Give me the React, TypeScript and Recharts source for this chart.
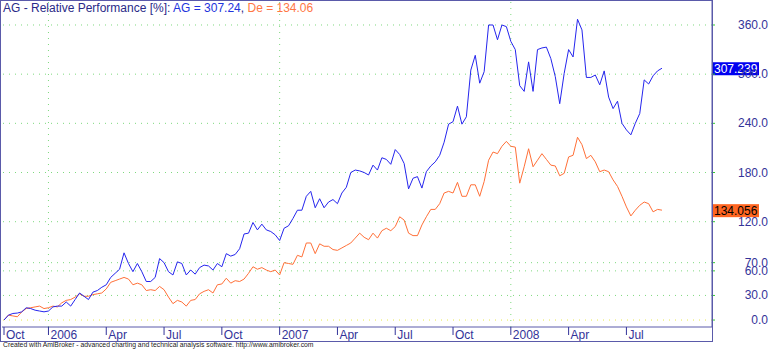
import { Line, LineChart, ReferenceLine, XAxis, YAxis } from "recharts";

// weekly relative performance [%], from late Oct 2005 to end of Aug 2008
const agValues = [
  0, 6, 8, 8.5, 10, 15, 14, 12, 11, 10,
  11, 16, 17, 17, 22, 17, 25, 33, 29, 25,
  34, 36, 40, 43, 52, 57, 62, 82, 69, 59,
  69, 59, 47, 47, 52, 75, 70, 59, 55, 71,
  69, 55, 61, 56, 64, 67, 66, 61, 69, 65,
  81, 78, 80, 87, 105, 106, 119, 110, 117, 110,
  108, 104, 97, 112, 115, 124, 134, 134, 151, 157,
  137, 148, 137, 144, 147, 142, 155, 162, 180, 183,
  182, 180, 177, 189, 183, 198, 196, 190, 208, 202,
  191, 160, 173, 175, 161, 181, 188, 193, 201, 217,
  239, 242, 261, 239, 248, 305, 323, 289, 303, 360,
  360, 342, 360, 358, 340, 330, 286, 279, 315, 279,
  330, 332, 333, 319, 297, 264, 301, 330, 321, 367,
  354, 296, 296, 299, 287, 304, 272, 258, 267, 240,
  232, 226, 240, 252, 293, 288, 298, 304, 307.239,
];

const deValues = [
  0, 6, 5, 4, 10, 14, 15, 16, 17, 14,
  15, 17, 16, 21, 24, 25, 28, 32, 29, 29,
  31, 32, 33, 38, 46, 48, 50, 52, 50, 43,
  45, 43, 36, 37, 36, 41, 37, 28, 20, 24,
  22, 17, 24, 25, 32, 35, 37, 33, 43, 44,
  51, 45, 48, 47, 50, 57, 65, 62, 64, 61,
  59, 61, 55, 70, 69, 68, 79, 77, 94, 94,
  81, 93, 90, 90, 86, 85, 88, 91, 94, 100,
  106, 101, 98, 106, 100, 109, 112, 109, 114, 126,
  122, 106, 103, 103, 116, 126, 135, 135, 142, 155,
  157, 155, 168, 151, 151, 165, 165, 151, 169, 195,
  205, 203, 212, 218, 212, 211, 167, 187, 209, 187,
  195, 203, 196, 189, 188, 176, 179, 199, 201, 223,
  214, 197, 201, 193, 181, 183, 181, 171, 163, 151,
  138, 127, 134, 140, 144, 142, 132, 135, 134.056,
];

const tickWeeks = [0, 10, 23, 36, 49, 62, 75, 88, 101, 114, 127, 140];
const tickLabels = ["Oct", "2006", "Apr", "Jul", "Oct", "2007", "Apr", "Jul", "Oct", "2008", "Apr", "Jul"];
const yearWeeks = [10, 62, 114];
const yTicks = [0, 30, 60, 70, 120, 180, 240, 300, 360];

const data = agValues.map((ag, i) => ({ week: i, ag, de: deValues[i] }));
const lastAg = agValues[agValues.length - 1];
const lastDe = deValues[deValues.length - 1];

const AXIS = "#333399";
const FRAME = "#5a5aaa";
const GRID = "#7fd97f";
const BLUE = "#2525ee";
const ORANGE = "#ff7038";
const FONT = "'Liberation Sans', Arial, sans-serif";

function XTick({ x, y, payload }: any) {
  const label = tickLabels[tickWeeks.indexOf(payload.value)];
  return (
    <g>
      <line x1={x} y1={y} x2={x} y2={y + 8} stroke={AXIS} />
      <text x={x + 2} y={y + 12} fill={AXIS} fontSize={12} fontFamily={FONT}>
        {label}
      </text>
    </g>
  );
}

function YTick({ x, y, payload }: any) {
  return (
    <text x={x + 53} y={y + 4} textAnchor="end" fill={AXIS} fontSize={12} fontFamily={FONT}>
      {Number(payload.value).toFixed(1)}
    </text>
  );
}

function ValueTag({ viewBox, text, bg, fg }: any) {
  if (!viewBox) return null;
  const left = viewBox.x + viewBox.width + 1;
  return (
    <g>
      <rect x={left} y={viewBox.y - 6} width={46} height={13} fill={bg} />
      <text x={left + 1} y={viewBox.y + 5} fill={fg} fontSize={12} fontFamily={FONT}>
        {text}
      </text>
    </g>
  );
}

export default function App() {
  return (
    <div style={{ position: "relative", width: 770, height: 350, background: "#fff", fontFamily: FONT }}>
      <style>{"body{margin:0}"}</style>
      <LineChart width={770} height={350} data={data} margin={{ top: 0, right: 0, bottom: 9, left: 2 }}>
        <XAxis
          dataKey="week"
          type="number"
          domain={[-0.45, 159.25]}
          allowDataOverflow
          ticks={tickWeeks}
          interval={0}
          height={14}
          tickSize={0}
          tickMargin={0}
          tickLine={false}
          axisLine={{ stroke: FRAME }}
          tick={<XTick />}
        />
        <YAxis
          orientation="right"
          domain={[-8.5, 390.5]}
          allowDataOverflow
          ticks={yTicks}
          interval={0}
          width={58}
          tickSize={3}
          tickMargin={0}
          tickLine={{ stroke: "#33cc33" }}
          axisLine={{ stroke: FRAME }}
          tick={<YTick />}
        />
        {yTicks.map((v) => (
          <ReferenceLine
            key={"h" + v}
            y={v}
            stroke={v === 0 ? "#e8e84a" : GRID}
            strokeDasharray="1 5"
          />
        ))}
        {yearWeeks.map((w) => (
          <ReferenceLine key={"v" + w} x={w} stroke={GRID} strokeDasharray="1 5" />
        ))}
        <Line
          type="linear"
          dataKey="de"
          stroke={ORANGE}
          strokeWidth={1}
          dot={false}
          activeDot={false}
          isAnimationActive={false}
        />
        <Line
          type="linear"
          dataKey="ag"
          stroke={BLUE}
          strokeWidth={1}
          dot={false}
          activeDot={false}
          isAnimationActive={false}
        />
        <ReferenceLine
          y={lastAg}
          stroke="none"
          label={(p: any) => <ValueTag {...p} text={lastAg.toFixed(3)} bg="#0000f0" fg="#ffffff" />}
        />
        <ReferenceLine
          y={lastDe}
          stroke="none"
          label={(p: any) => <ValueTag {...p} text={lastDe.toFixed(3)} bg="#ff6622" fg="#000000" />}
        />
      </LineChart>
      <div
        style={{
          position: "absolute",
          left: 0,
          top: 0,
          width: 713,
          height: 342,
          boxSizing: "border-box",
          border: `1px solid ${FRAME}`,
          pointerEvents: "none",
        }}
      />
      <div style={{ position: "absolute", left: 3, top: 2, fontSize: 12, lineHeight: "12px", color: "#2a2a88", whiteSpace: "nowrap" }}>
        AG - Relative Performance [%]: <span style={{ color: "#2233dd" }}>AG = 307.24</span>,{" "}
        <span style={{ color: "#ff7744" }}>De = 134.06</span>
      </div>
      <div style={{ position: "absolute", left: 3, top: 341, fontSize: 6.8, lineHeight: "8px", color: "#222", whiteSpace: "nowrap" }}>
        Created with AmiBroker - advanced charting and technical analysis software. http://www.amibroker.com
      </div>
    </div>
  );
}
